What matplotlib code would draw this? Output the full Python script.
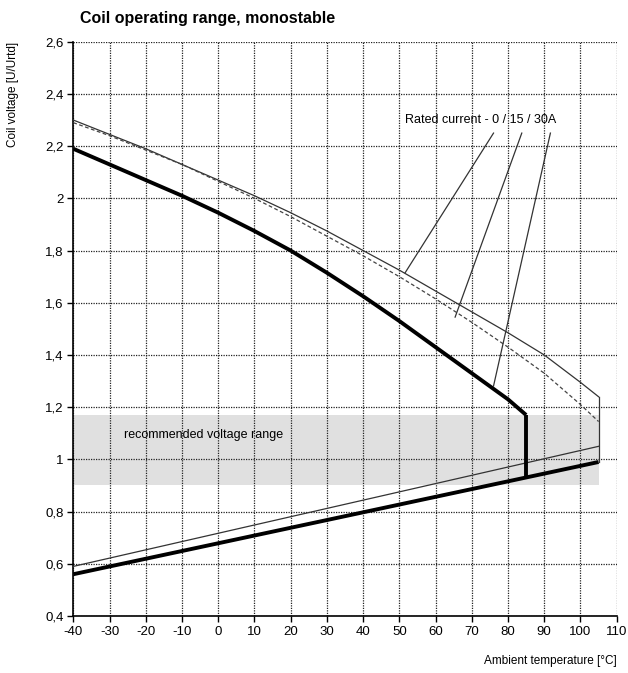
import matplotlib
matplotlib.use("Agg")
from matplotlib import pyplot as plt
from matplotlib.ticker import FuncFormatter

plt.rcParams['font.family'] = ['Liberation Sans', 'DejaVu Sans']
plt.rcParams['axes.unicode_minus'] = False

# upper limits (max coil voltage) for rated current 0 / 15 / 30 A
temp_0a = [-40, -30, -20, -10, 0, 10, 20, 30, 40, 50, 60, 70, 80, 90, 100, 105]
volt_0a = [2.30, 2.245, 2.19, 2.13, 2.07, 2.01, 1.945, 1.875, 1.80, 1.725, 1.645, 1.565, 1.485, 1.40, 1.295, 1.24]
temp_15a = [-40, -30, -20, -10, 0, 10, 20, 30, 40, 50, 60, 70, 80, 90, 100, 105]
volt_15a = [2.29, 2.24, 2.185, 2.13, 2.065, 2.00, 1.93, 1.855, 1.78, 1.70, 1.615, 1.525, 1.43, 1.33, 1.21, 1.145]
temp_30a = [-40, -30, -20, -10, 0, 10, 20, 30, 40, 50, 60, 70, 80, 85]
volt_30a = [2.19, 2.13, 2.07, 2.01, 1.945, 1.875, 1.80, 1.715, 1.625, 1.53, 1.43, 1.33, 1.23, 1.17]

# lower limits (pick-up voltage)
temp_low = [-40, 105]
volt_low_thin = [0.59, 1.05]
volt_low_thick = [0.56, 0.99]

# recommended range band
band_x = [-40, 105]
band_lo = 0.90
band_hi = 1.17

x_ticks = list(range(-40, 111, 10))
y_ticks = [0.4, 0.6, 0.8, 1.0, 1.2, 1.4, 1.6, 1.8, 2.0, 2.2, 2.4, 2.6]

# pointer lines: (label point) -> (curve point)
pointer_start = [(76.0, 2.25), (83.8, 2.25), (91.7, 2.25)]
pointer_end = [(51.6, 1.715), (65.4, 1.545), (76.0, 1.281)]

fig = plt.figure(figsize=(6.28, 6.73), dpi=100)
ax = fig.add_axes([0.1167, 0.0847, 0.8653, 0.8533])

ax.fill_between(band_x, band_lo, band_hi, color='#e0e0e0', lw=0, zorder=1)

ax.plot(temp_0a, volt_0a, color='#333333', lw=0.9, zorder=3)
ax.plot(temp_15a, volt_15a, color='#444444', lw=0.9, ls=(0, (3, 2)), zorder=3)
ax.plot(temp_30a, volt_30a, color='black', lw=2.8, zorder=4, solid_capstyle='butt')
ax.plot(temp_low, volt_low_thin, color='#333333', lw=0.9, zorder=3)
ax.plot(temp_low, volt_low_thick, color='black', lw=2.8, zorder=4, solid_capstyle='butt')

# vertical end pieces
ax.plot([temp_0a[-1], temp_0a[-1]], [volt_0a[-1], volt_low_thick[-1]], color='#333333', lw=0.9, zorder=3)
low_at_85 = volt_low_thick[0] + (volt_low_thick[1] - volt_low_thick[0]) * (temp_30a[-1] - temp_low[0]) / (temp_low[1] - temp_low[0])
ax.plot([temp_30a[-1], temp_30a[-1]], [volt_30a[-1], low_at_85], color='black', lw=2.8, zorder=4, solid_capstyle='butt')

for (x0, y0), (x1, y1) in zip(pointer_start, pointer_end):
    ax.plot([x0, x1], [y0, y1], color='#333333', lw=0.9, zorder=3)

ax.text(72.5, 2.30, 'Rated current - 0 / 15 / 30A', fontsize=9, ha='center', va='center', zorder=5)
ax.text(-26, 1.095, 'recommended voltage range', fontsize=9, ha='left', va='center', zorder=5)

ax.set_xlim(-40, 110)
ax.set_ylim(0.4, 2.6)
ax.set_xticks(x_ticks)
ax.set_yticks(y_ticks)
ax.yaxis.set_major_formatter(FuncFormatter(lambda v, p: ('%g' % round(v, 2)).replace('.', ',')))
ax.tick_params(direction='out', length=4, width=1, labelsize=9.5, colors='black', pad=3)

ax.set_axisbelow('line')
ax.grid(True, color='#222222', ls=(0, (1, 1)), lw=0.9)
ax.spines['top'].set_visible(False)
ax.spines['right'].set_visible(False)
ax.spines['left'].set_linewidth(1.2)
ax.spines['bottom'].set_linewidth(1.2)

fig.text(0.127, 0.972, 'Coil operating range, monostable', fontsize=11.5, fontweight='bold', ha='left', va='center')
fig.text(0.02, 0.938, 'Coil voltage [U/Urtd]', fontsize=8.5, rotation=90, ha='center', va='top')
fig.text(0.982, 0.018, 'Ambient temperature [°C]', fontsize=8.5, ha='right', va='center')

fig.savefig('out.png', dpi=100)
